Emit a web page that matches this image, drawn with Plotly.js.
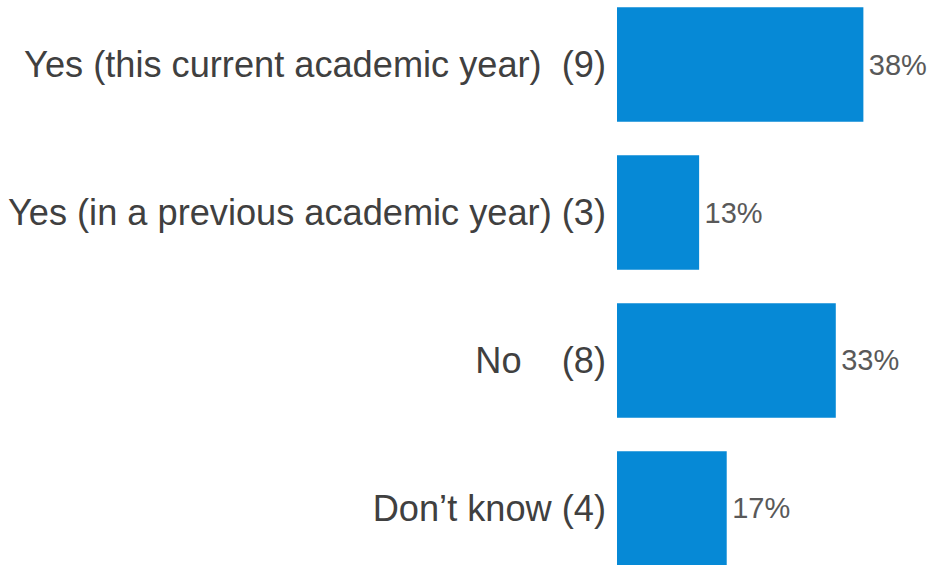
<!DOCTYPE html>
<html>
<head>
<meta charset="utf-8">
<script src="https://cdn.plot.ly/plotly-3.0.1.min.js"></script>
<style>html,body{margin:0;padding:0;background:#fff;}#chart{width:935px;height:565px;}</style>
</head>
<body>
<div id="chart"></div>
<script>
const categories = [
  "Yes (this current academic year)\u00a0\u00a0(9)",
  "Yes (in a previous academic year) (3)",
  "No\u00a0\u00a0\u00a0\u00a0(8)",
  "Don\u2019t know (4)"
];
const values = [37.5, 12.5, 33.3, 16.7];
const valueLabels = ["38%", "13%", "33%", "17%"];

const trace = {
  type: "bar",
  orientation: "h",
  y: categories,
  x: values,
  text: valueLabels,
  texttemplate: "\u200a%{text}",
  textposition: "outside",
  cliponaxis: false,
  textfont: {family: "Arial, 'Liberation Sans', sans-serif", size: 29, color: "#595959"},
  marker: {color: "#0689D6"},
  hoverinfo: "none"
};

const layout = {
  width: 935,
  height: 565,
  margin: {l: 617, r: 0, t: 0, b: 0},
  paper_bgcolor: "#ffffff",
  plot_bgcolor: "#ffffff",
  showlegend: false,
  bargap: 0.227,
  xaxis: {range: [0, 48.4], visible: false, fixedrange: true},
  yaxis: {
    type: "category",
    range: [3.3818, -0.4358],
    showgrid: false, zeroline: false, showline: false, ticks: "",
    ticklabelstandoff: 10,
    tickfont: {family: "Arial, 'Liberation Sans', sans-serif", size: 36.2, color: "#404040"},
    fixedrange: true
  },
  font: {family: "Arial, 'Liberation Sans', sans-serif"}
};

Plotly.newPlot("chart", [trace], layout, {displayModeBar: false, staticPlot: true});
</script>
</body>
</html>
